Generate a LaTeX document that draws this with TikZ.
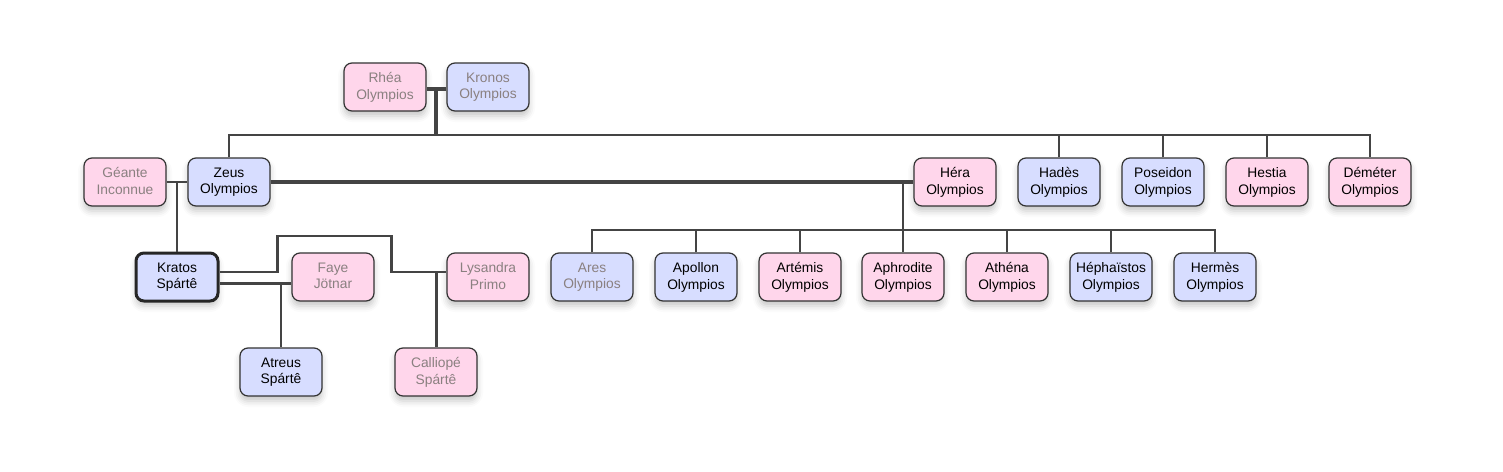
\documentclass[tikz,border=0pt]{standalone}
\usepackage{fontspec}
\setmainfont{Liberation Sans}
\usepackage{tikz}
\usetikzlibrary{positioning,calc,shadows.blur}

\definecolor{pinkbox}{HTML}{FFD6EB}
\definecolor{bluebox}{HTML}{D7DDFF}
\definecolor{edge}{HTML}{333333}
\definecolor{wire}{HTML}{444444}
\definecolor{fadedtext}{HTML}{8A8080}

\begin{document}
\begin{tikzpicture}[
    x=0.5pt, y=-0.5pt,
    box/.style={rectangle, draw=edge, line width=0.6pt, rounded corners=4pt,
                minimum width=41pt, minimum height=24pt, align=center,
                inner sep=0pt, font=\fontsize{6.9}{8.2}\selectfont,
                text depth=1pt,
                blur shadow={shadow xshift=0pt, shadow yshift=-2.5pt,
                             shadow blur radius=3pt, shadow opacity=22}},
    fem/.style={box, fill=pinkbox},
    masc/.style={box, fill=bluebox},
    faded/.style={text=fadedtext},
    hero/.style={line width=1.5pt, draw=black!85},
    couple/.style={draw=wire, line width=2pt},
    kin/.style={draw=wire, line width=1.3pt},
]
\useasboundingbox (0,0) rectangle (1503,471);

% Titans
\node[fem, faded] (rhea) at (385,87) {Rhéa\\Olympios};
\node[masc, faded] (kronos) at (488,87) {Kronos\\Olympios};

% Olympians
\node[fem, faded] (geante) at (125,182) {Géante\\Inconnue};
\node[masc] (zeus) at (229,182) {Zeus\\Olympios};
\node[fem] (hera) at (955,182) {Héra\\Olympios};
\node[masc] (hades) at (1059,182) {Hadès\\Olympios};
\node[masc] (poseidon) at (1163,182) {Poseidon\\Olympios};
\node[fem] (hestia) at (1267,182) {Hestia\\Olympios};
\node[fem] (demeter) at (1370,182) {Déméter\\Olympios};

% Kratos and his family
\node[masc, hero] (kratos) at (177,277) {Kratos\\Spártê};
\node[fem, faded] (faye) at (333,277) {Faye\\Jötnar};
\node[fem, faded] (lysandra) at (488,277) {Lysandra\\Primo};
\node[masc] (atreus) at (281,372) {Atreus\\Spártê};
\node[fem, faded] (calliope) at (436,372) {Calliopé\\Spártê};

% children of Zeus and Hera
\node[masc, faded] (ares) at (592,277) {Ares\\Olympios};
\node[masc] (apollon) at (696,277) {Apollon\\Olympios};
\node[fem] (artemis) at (800,277) {Artémis\\Olympios};
\node[fem] (aphrodite) at (903,277) {Aphrodite\\Olympios};
\node[fem] (athena) at (1007,277) {Athéna\\Olympios};
\node[masc] (hephaistos) at (1111,277) {Héphaïstos\\Olympios};
\node[masc] (hermes) at (1215,277) {Hermès\\Olympios};

% junctions
\coordinate (rk) at (436,89);
\coordinate (bar1) at (436,135);
\coordinate (zh) at (903,182);
\coordinate (bar2) at (903,230);
\coordinate (gz) at (177,182);
\coordinate (kf) at (281,283);
\coordinate (kl) at (436,272);

% Rhea + Kronos
\draw[couple] (rhea.east |- rk) -- (kronos.west |- rk);
\draw[kin, line width=1.6pt] (rk) -- (bar1);
\draw[kin] (zeus.north) |- (bar1) -| (demeter.north);
\foreach \c in {hades, poseidon, hestia}
  \draw[kin] (\c.north) -- (\c.north |- bar1);

% Zeus + Hera
\draw[couple] (zeus) -- (hera);
\draw[kin] (zh) -- (bar2);
\draw[kin] (ares.north) |- (bar2) -| (hermes.north);
\foreach \c in {apollon, artemis, aphrodite, athena, hephaistos}
  \draw[kin] (\c.north) -- (\c.north |- bar2);

% Geante + Zeus
\draw[kin, line width=1pt] (geante) -- (zeus);
\draw[kin] (gz) -- (kratos.north);

% Kratos + Faye
\draw[kin, line width=1.5pt] (kratos.east |- kf) -- (faye.west |- kf);
\draw[kin] (kf) -- (atreus.north);

% Kratos + Lysandra
\draw[kin] (kratos.east |- kl) -- ++(58,0) -- ++(0,-36) -- ++(114,0)
  -- ++(0,36) -- (lysandra.west |- kl);
\draw[kin, line width=1.5pt] (kl) -- (calliope.north);

\end{tikzpicture}
\end{document}
